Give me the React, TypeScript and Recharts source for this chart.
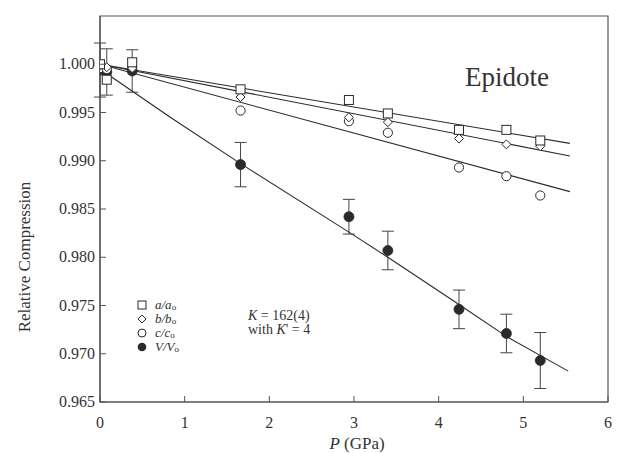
import React from 'react';
import {
  ComposedChart,
  Line,
  Scatter,
  XAxis,
  YAxis,
  ErrorBar,
  ReferenceArea,
  Legend,
  Customized,
} from 'recharts';

// Measured points (pressure in GPa)
const pressure = [0, 0.08, 0.38, 1.66, 2.94, 3.4, 4.24, 4.8, 5.2];
const aRatio = [1.0, 0.9984, 1.0002, 0.9974, 0.9963, 0.9949, 0.9932, 0.9932, 0.9921];
const bRatio = [0.9999, 0.9997, 0.9996, 0.9966, 0.9945, 0.994, 0.9923, 0.9917, 0.9915];
const cRatio = [0.9996, 0.9995, 0.9997, 0.9952, 0.9941, 0.9929, 0.9893, 0.9884, 0.9864];
const vRatio = [0.9994, 0.9992, 0.9993, 0.9896, 0.9842, 0.9807, 0.9746, 0.9721, 0.9693];
const vError = [0.0028, 0.0024, 0.0022, 0.0023, 0.0018, 0.002, 0.002, 0.002, 0.0029];

// Fitted curves
const fitPressure = [0, 5.55];
const aFit = [1.0, 0.9918];
const bFit = [1.0, 0.9905];
const cFit = [1.0, 0.9868];
const vFitPressure = [0, 0.83, 1.66, 2.94, 3.4, 4.24, 4.8, 5.53];
const vFit = [0.9995, 0.9945, 0.9897, 0.9826, 0.98, 0.9751, 0.9718, 0.9682];

const xTicks = [0, 1, 2, 3, 4, 5, 6];
const yTicks = [0.965, 0.97, 0.975, 0.98, 0.985, 0.99, 0.995, 1.0];

const legendItems = [
  { key: 'a', label: 'a/a', shape: 'square' },
  { key: 'b', label: 'b/b', shape: 'diamond' },
  { key: 'c', label: 'c/c', shape: 'circle' },
  { key: 'V', label: 'V/V', shape: 'filled' },
];

const toPoints = (ys: number[], errs?: number[]) =>
  pressure.map((p, i) => ({ x: p, y: ys[i], err: errs ? errs[i] : 0 }));
const toLine = (xs: number[], ys: number[]) => xs.map((p, i) => ({ x: p, y: ys[i] }));

const INK = '#2a2a2a';
const AXIS = '#555';
const FONT = 'Liberation Serif, Tinos, Times New Roman, Noto Serif, DejaVu Serif, serif';

const Square = (props: any) => {
  const { cx, cy } = props;
  if (cx == null || cy == null) return null;
  return <rect x={cx - 4.5} y={cy - 4.5} width={9} height={9} fill="#fff" stroke={INK} strokeWidth={1} />;
};
const Diamond = (props: any) => {
  const { cx, cy } = props;
  if (cx == null || cy == null) return null;
  const r = 4.5;
  return (
    <polygon
      points={`${cx},${cy - r} ${cx + r},${cy} ${cx},${cy + r} ${cx - r},${cy}`}
      fill="#fff"
      stroke={INK}
      strokeWidth={1}
    />
  );
};
const OpenCircle = (props: any) => {
  const { cx, cy } = props;
  if (cx == null || cy == null) return null;
  return <circle cx={cx} cy={cy} r={4.6} fill="#fff" stroke={INK} strokeWidth={1} />;
};
const FilledCircle = (props: any) => {
  const { cx, cy } = props;
  if (cx == null || cy == null) return null;
  return <circle cx={cx} cy={cy} r={5} fill={INK} stroke={INK} strokeWidth={0.8} />;
};

const XTick = (props: any) => {
  const { x, y, payload } = props;
  return (
    <g>
      <line x1={x} x2={x} y1={y} y2={y - 6} stroke={AXIS} strokeWidth={1} />
      <text x={x} y={y + 26} textAnchor="middle" fontSize={16} fontFamily={FONT} fill="#333">
        {payload.value}
      </text>
    </g>
  );
};

const YTick = (props: any) => {
  const { x, y, payload } = props;
  return (
    <g>
      <line x1={x} x2={x + 6} y1={y} y2={y} stroke={AXIS} strokeWidth={1} />
      <text x={x - 5} y={y + 5} textAnchor="end" fontSize={16} fontFamily={FONT} fill="#333">
        {Number(payload.value).toFixed(3)}
      </text>
    </g>
  );
};

const YLabel = (props: any) => {
  const vb = props.viewBox || { x: 0, y: 0, width: 0, height: 0 };
  const cx = vb.x + 24;
  const cy = vb.y + vb.height / 2 + 48;
  return (
    <text
      x={cx}
      y={cy}
      transform={`rotate(-90 ${cx} ${cy})`}
      textAnchor="middle"
      dominantBaseline="central"
      fontSize={17}
      fontFamily={FONT}
      fill="#333"
    >
      Relative Compression
    </text>
  );
};

const XLabel = (props: any) => {
  const vb = props.viewBox || { x: 0, y: 0, width: 0, height: 0 };
  return (
    <text
      x={vb.x + vb.width / 2 + 3}
      y={vb.y + 47}
      textAnchor="middle"
      fontSize={17}
      fontFamily={FONT}
      fill="#333"
    >
      <tspan fontStyle="italic">P</tspan> (GPa)
    </text>
  );
};

const LegendIcon = ({ shape }: { shape: string }) => {
  const c = 6;
  let el: React.ReactNode = null;
  if (shape === 'square') el = <rect x={c - 4} y={c - 4} width={8} height={8} fill="#fff" stroke={INK} />;
  if (shape === 'diamond')
    el = (
      <polygon points={`${c},${c - 4} ${c + 4},${c} ${c},${c + 4} ${c - 4},${c}`} fill="#fff" stroke={INK} />
    );
  if (shape === 'circle') el = <circle cx={c} cy={c} r={4} fill="#fff" stroke={INK} />;
  if (shape === 'filled') el = <circle cx={c} cy={c} r={4.3} fill={INK} />;
  return (
    <svg width={12} height={12} style={{ display: 'block' }}>
      {el}
    </svg>
  );
};

const renderLegend = () => (
  <div style={{ fontFamily: FONT, color: '#333' }}>
    {legendItems.map((it) => (
      <div key={it.key} style={{ display: 'flex', alignItems: 'center', height: 14 }}>
        <LegendIcon shape={it.shape} />
        <span style={{ marginLeft: 7, fontStyle: 'italic', fontSize: 13, lineHeight: '12px', whiteSpace: 'nowrap' }}>
          {it.label}
          <span style={{ fontSize: 9, lineHeight: '9px', fontStyle: 'normal', position: 'relative', top: 1 }}>o</span>
        </span>
      </div>
    ))}
  </div>
);

const Annotations = () => (
  <g fontFamily={FONT} fill="#333">
    <text x={465} y={86} fontSize={27} fontFamily={FONT}>
      Epidote
    </text>
    <text x={248} y={319.5} fontSize={14} fontFamily={FONT}>
      <tspan fontStyle="italic">K</tspan> = 162(4)
    </text>
    <text x={248} y={334} fontSize={14} fontFamily={FONT}>
      with <tspan fontStyle="italic">K</tspan>' = 4
    </text>
  </g>
);

export default function App() {
  return (
    <div style={{ position: 'absolute', left: 0, top: 0, background: '#fff', fontFamily: FONT }}>
      <ComposedChart width={618} height={453} margin={{ top: 16, right: 10, bottom: 0, left: 0 }}>
        <XAxis
          dataKey="x"
          type="number"
          domain={[0, 6]}
          ticks={xTicks}
          interval={0}
          allowDataOverflow
          height={51}
          tickSize={0}
          tickMargin={0}
          tickLine={false}
          tick={<XTick />}
          axisLine={{ stroke: AXIS, strokeWidth: 1.2 }}
          label={<XLabel />}
        />
        <YAxis
          type="number"
          domain={[0.965, 1.005]}
          ticks={yTicks}
          interval={0}
          allowDataOverflow
          width={100}
          tickSize={0}
          tickMargin={0}
          tickLine={false}
          tick={<YTick />}
          axisLine={{ stroke: AXIS, strokeWidth: 1.2 }}
          label={<YLabel />}
        />
        <ReferenceArea x1={0} x2={6} y1={0.965} y2={1.005} fill="none" stroke={AXIS} strokeWidth={1.2} />
        <Line data={toLine(fitPressure, aFit)} dataKey="y" type="linear" dot={false} stroke={INK} strokeWidth={1.1} isAnimationActive={false} legendType="none" />
        <Line data={toLine(fitPressure, bFit)} dataKey="y" type="linear" dot={false} stroke={INK} strokeWidth={1.1} isAnimationActive={false} legendType="none" />
        <Line data={toLine(fitPressure, cFit)} dataKey="y" type="linear" dot={false} stroke={INK} strokeWidth={1.1} isAnimationActive={false} legendType="none" />
        <Line data={toLine(vFitPressure, vFit)} dataKey="y" type="linear" dot={false} stroke={INK} strokeWidth={1.1} isAnimationActive={false} legendType="none" />
        <Scatter data={toPoints(vRatio, vError)} dataKey="y" shape={FilledCircle} isAnimationActive={false}>
          <ErrorBar dataKey="err" direction="y" width={6} stroke="#444" strokeWidth={1} isAnimationActive={false} />
        </Scatter>
        <Scatter data={toPoints(cRatio)} dataKey="y" shape={OpenCircle} isAnimationActive={false} />
        <Scatter data={toPoints(bRatio)} dataKey="y" shape={Diamond} isAnimationActive={false} />
        <Scatter data={toPoints(aRatio)} dataKey="y" shape={Square} isAnimationActive={false} />
        <Legend
          layout="vertical"
          align="center"
          verticalAlign="middle"
          content={renderLegend}
          wrapperStyle={{ position: 'absolute', left: 136, top: 298, width: 80 }}
        />
        <Customized component={Annotations} />
      </ComposedChart>
    </div>
  );
}
